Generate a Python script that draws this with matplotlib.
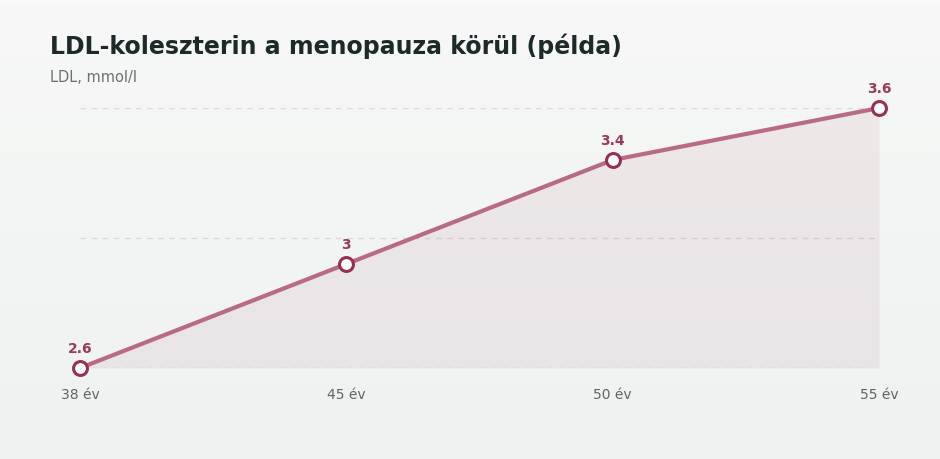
import matplotlib
matplotlib.use("Agg")
import matplotlib.pyplot as plt
import numpy as np

plt.rcParams['font.family'] = ['DejaVu Sans']

categories = ["38 év", "45 év", "50 év", "55 év"]
values = [2.6, 3.0, 3.4, 3.6]
labels = ["2.6", "3", "3.4", "3.6"]
grid_vals = [2.6, 3.1, 3.6]

fig = plt.figure(figsize=(9.4, 4.6), dpi=100)
fig.patch.set_facecolor("#f3f5f4")
bg = fig.add_axes([0, 0, 1, 1], zorder=-10)
g = np.linspace(0, 1, 100).reshape(-1, 1)
bg.imshow(g, extent=[0, 1, 0, 1], aspect="auto", cmap=matplotlib.colors.LinearSegmentedColormap.from_list("b", ["#f7f8f7", "#eef2f0"]))
bg.axis("off")

ax = fig.add_axes([80/940, 1-369/460, (879-80)/940, 260/460])
ax.set_facecolor("none")
x = np.arange(len(values))
ax.set_xlim(0, 3)
ax.set_ylim(2.6, 3.6)
for gv in grid_vals:
    ax.axhline(gv, color="#d5dcd8", lw=1, ls=(0, (4, 4)), zorder=0)
ax.fill_between(x, values, 2.6, color="#b5637e", alpha=0.1, lw=0, zorder=1)
ax.plot(x, values, color="#b96a84", lw=3, zorder=3, clip_on=False)
ax.plot(x, values, "o", ms=10, mfc="white", mec="#97304f", mew=2.2, zorder=4, clip_on=False)
for xi, v, l in zip(x, values, labels):
    ax.annotate(l, (xi, v), xytext=(0, 9), textcoords="offset points", ha="center", va="bottom",
                color="#9b3a58", fontsize=10, fontweight="bold")
ax.set_xticks(x)
ax.set_xticklabels(categories, color="#5d6664", fontsize=10)
ax.tick_params(axis="x", length=0, pad=14)
ax.set_yticks([])
for s in ax.spines.values():
    s.set_visible(False)

fig.text(50/940, 1-46/460, "LDL-koleszterin a menopauza körül (példa)", fontsize=17, fontweight="bold", color="#1c2a2a", va="center")
fig.text(50/940, 1-78/460, "LDL, mmol/l", fontsize=10.5, color="#6a7270", va="center")
fig.savefig("out.png", dpi=100)
